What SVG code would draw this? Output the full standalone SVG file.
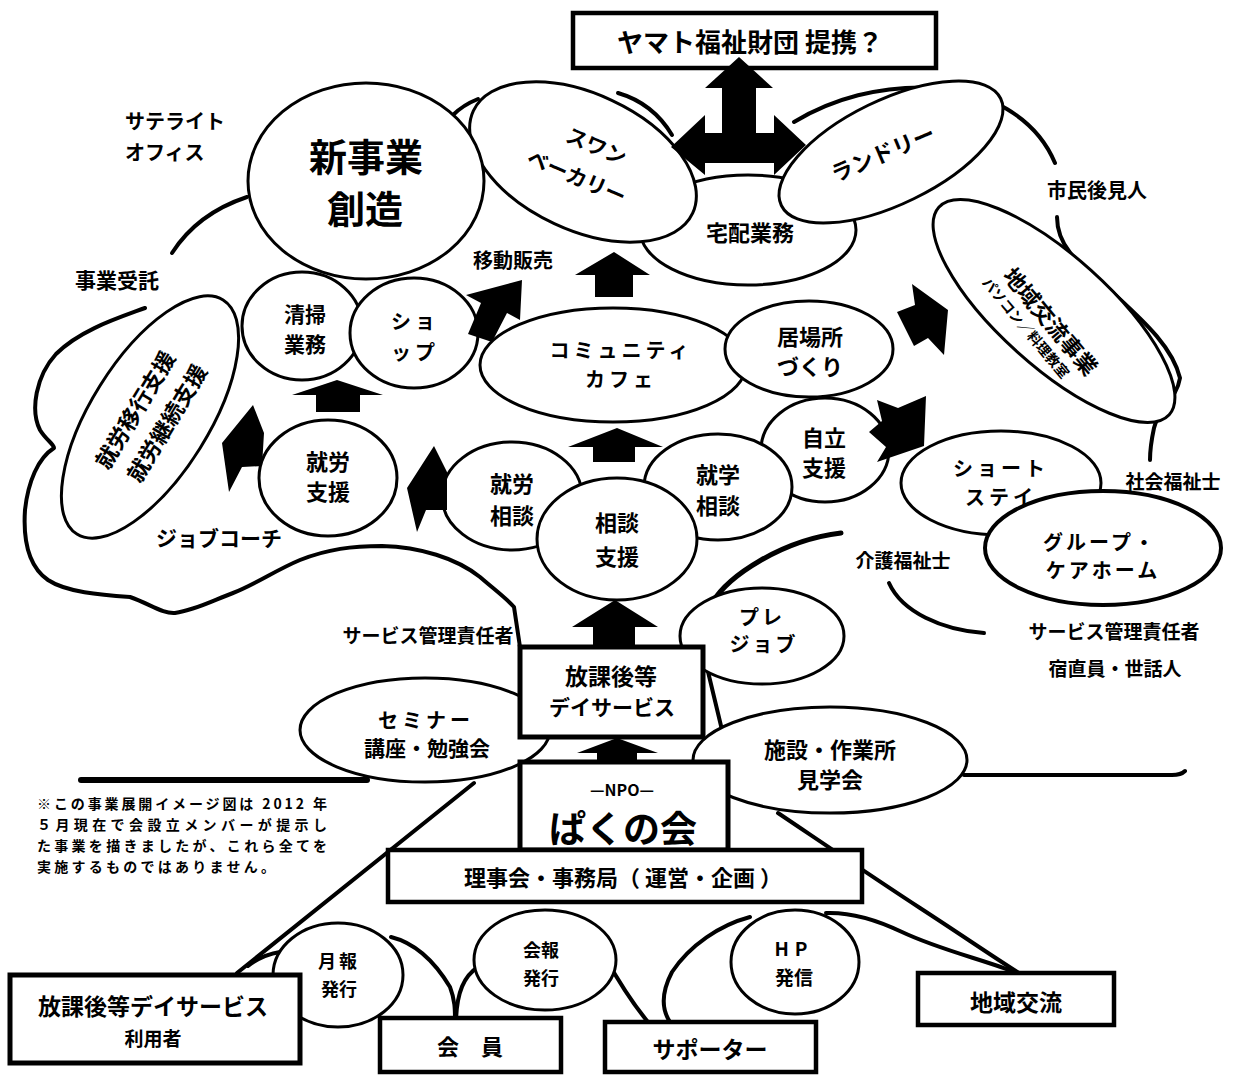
<svg xmlns="http://www.w3.org/2000/svg" width="1240" height="1082" viewBox="0 0 1240 1082">
<style>
.n{fill:#fff;stroke:#000;stroke-width:3}
.bx{fill:#fff;stroke:#000;stroke-width:4.5}
.t{font-family:"Noto Sans CJK JP","Noto Sans CJK SC",sans-serif;font-weight:700;text-anchor:middle;fill:#000}
.s{text-anchor:start}
.l{fill:none;stroke:#000;stroke-width:4;stroke-linecap:round;stroke-linejoin:round}
.a{fill:#000}
</style>
<rect width="1240" height="1082" fill="#fff"/>

<g id="connectors">
<path class="l" d="M172,253 C188,228 214,208 247,197"/>
<path class="l" d="M453,115 C460,108 468,103 478,99"/>
<path class="l" d="M618,93 C642,100 660,115 672,135"/>
<path class="l" d="M794,122 C830,100 880,84 940,88 C985,92 1035,115 1055,163"/>
<path class="l" d="M1057,217 C1057,250 1085,268 1110,290 C1140,318 1172,345 1180,378 C1177,398 1158,410 1154,428 C1151,442 1150,450 1150,460"/>
<path class="l" d="M889,583 C902,612 942,630 984,633"/>
<path class="l" style="stroke-width:5" d="M712,603 C728,576 782,540 841,533"/>
<path class="l" d="M145,308 C118,318 80,330 56,354 C36,376 30,410 40,430 C46,440 54,444 54,448 C38,458 28,482 25,510 C23,540 28,566 48,580 C66,592 100,595 130,597 C150,604 163,614 175,613 C196,610 214,600 233,593 C256,584 276,570 300,560 C328,549 352,546 382,546 C420,547 456,558 480,577 C495,590 506,598 514,607 L520,647"/>
<path class="l" d="M474,783 L237,973"/>
<path class="l" d="M248,966 C258,958 268,954 280,952"/>
<path class="l" d="M391,937 C415,943 435,962 450,987 C455,1000 455,1010 455,1020"/>
<path class="l" d="M478,967 C464,976 457,992 456,1020"/>
<path class="l" d="M605,957 C615,975 628,998 648,1022"/>
<path class="l" d="M750,917 C720,925 690,945 672,972 C660,995 662,1010 670,1022"/>
<path class="l" d="M826,913 C852,912 877,920 902,932 C940,950 985,960 1017,973"/>
<path class="l" d="M778,813 C830,848 880,882 920,908 C960,934 995,958 1022,975"/>
<path class="l" style="stroke-width:6" d="M81,780 L367,780"/>
<path class="l" d="M964,775 L1172,775 C1178,775 1183,773 1185,771"/>
<path class="l" d="M704,655 C710,680 716,705 722,730"/>
</g>

<g id="nodes">
<g id="n-takuhai"><ellipse class="n" cx="748" cy="230" rx="108" ry="55"/><text class="t" x="750" y="241" font-size="22">宅配業務</text></g>
<g id="n-swan"><ellipse class="n" cx="583" cy="162" rx="121" ry="68" transform="rotate(25 583 162)"/>
<g transform="translate(583 162) rotate(23)"><text class="t" x="6" y="-12" font-size="21">スワン</text><text class="t" x="0" y="24" font-size="21">ベーカリー</text></g></g>
<g id="n-laundry"><ellipse class="n" cx="891" cy="152" rx="122" ry="52" transform="rotate(-26 891 152)"/>
<text class="t" x="0" y="0" font-size="22" transform="translate(886 161) rotate(-23)">ランドリー</text></g>
<g id="n-new"><ellipse class="n" cx="366" cy="181" rx="118" ry="98"/><text class="t" x="366" y="171" font-size="38">新事業</text><text class="t" x="365" y="223" font-size="38">創造</text></g>
<g id="n-seisou"><ellipse class="n" cx="302" cy="326" rx="60" ry="54"/><text class="t" x="305" y="322" font-size="21">清掃</text><text class="t" x="305" y="352" font-size="21">業務</text></g>
<g id="n-shop"><ellipse class="n" cx="414" cy="333" rx="64" ry="55"/><text class="t" x="415" y="329" font-size="20" letter-spacing="4">ショ</text><text class="t" x="415" y="360" font-size="20" letter-spacing="4">ップ</text></g>
<g id="n-cafe"><ellipse class="n" cx="613" cy="365" rx="133" ry="57"/><text class="t" x="621" y="358" font-size="20" letter-spacing="4" font-weight="500">コミュニティ</text><text class="t" x="621" y="387" font-size="20" letter-spacing="4" font-weight="500">カフェ</text></g>
<g id="n-ibasho"><ellipse class="n" cx="809" cy="349" rx="84" ry="48"/><text class="t" x="810" y="345" font-size="22">居場所</text><text class="t" x="810" y="375" font-size="22">づくり</text></g>
<g id="n-jiritsu"><ellipse class="n" cx="825" cy="450" rx="64" ry="52"/><text class="t" x="824" y="446" font-size="22">自立</text><text class="t" x="824" y="476" font-size="22">支援</text></g>
<g id="n-shugaku"><ellipse class="n" cx="718" cy="487" rx="74" ry="53"/><text class="t" x="718" y="483" font-size="22">就学</text><text class="t" x="718" y="514" font-size="22">相談</text></g>
<g id="n-shuro-sodan"><ellipse class="n" cx="512" cy="496" rx="70" ry="54"/><text class="t" x="512" y="492" font-size="22">就労</text><text class="t" x="512" y="524" font-size="22">相談</text></g>
<g id="n-sodan"><ellipse class="n" cx="617" cy="539" rx="80" ry="61"/><text class="t" x="617" y="531" font-size="22">相談</text><text class="t" x="617" y="565" font-size="22">支援</text></g>
<g id="n-shuro-shien"><ellipse class="n" cx="328" cy="478" rx="69" ry="58"/><text class="t" x="328" y="470" font-size="22">就労</text><text class="t" x="328" y="500" font-size="22">支援</text></g>
<g id="n-ikou"><ellipse class="n" cx="150" cy="417" rx="138" ry="59" transform="rotate(-58 150 417)"/>
<g transform="translate(151 417) rotate(-59)"><text class="t" x="-2" y="-9" font-size="22">就労移行支援</text><text class="t" x="3" y="25" font-size="22">就労継続支援</text></g></g>
<g id="n-chiiki-jigyo"><ellipse class="n" cx="1054" cy="311" rx="155" ry="55" transform="rotate(42 1054 311)"/>
<g transform="translate(1040 325) rotate(50)"><text class="t" x="4" y="-2" font-size="22">地域交流事業</text><text class="t" x="-7" y="18" font-size="14">パソコン／料理教室</text></g></g>
<g id="n-short"><ellipse class="n" cx="1001" cy="483" rx="100" ry="52"/><text class="t" x="1001" y="476" font-size="20" letter-spacing="4">ショート</text><text class="t" x="1001" y="505" font-size="20" letter-spacing="4">ステイ</text></g>
<g id="n-group"><ellipse class="n" cx="1103" cy="548" rx="118" ry="57" style="stroke-width:4"/><text class="t" x="1100" y="550" font-size="20" letter-spacing="3">グループ・</text><text class="t" x="1103" y="578" font-size="20" letter-spacing="3">ケアホーム</text></g>
<g id="n-prejob"><ellipse class="n" cx="762" cy="636" rx="82" ry="48"/><text class="t" x="762" y="625" font-size="20" letter-spacing="3">プレ</text><text class="t" x="764" y="652" font-size="20" letter-spacing="3">ジョブ</text></g>
<g id="n-seminar"><ellipse class="n" cx="425" cy="730" rx="125" ry="52"/><text class="t" x="426" y="728" font-size="20" letter-spacing="4" font-weight="500">セミナー</text><text class="t" x="427" y="756" font-size="21">講座・勉強会</text></g>
<g id="n-kengaku"><ellipse class="n" cx="830" cy="760" rx="137" ry="53"/><text class="t" x="830" y="758" font-size="22">施設・作業所</text><text class="t" x="830" y="788" font-size="22">見学会</text></g>
<g id="n-houkago"><rect class="bx" x="520" y="647" width="183" height="90" style="stroke-width:5"/><text class="t" x="611" y="685" font-size="23">放課後等</text><text class="t" x="612" y="715" font-size="21">デイサービス</text></g>
<g id="n-npo"><rect class="bx" x="520" y="762" width="208" height="88" style="stroke-width:5"/><text class="t" x="622" y="796" font-size="16">—NPO—</text><text class="t" x="623" y="843" font-size="37">ぱくの会</text></g>
<g id="n-rijikai"><rect class="bx" x="388" y="850" width="474" height="52"/><text class="t" x="623" y="886" font-size="22">理事会・事務局（ 運営・企画 ）</text></g>
<g id="n-yamato"><rect class="bx" x="573" y="13" width="363" height="55"/><text class="t" x="750" y="52" font-size="26">ヤマト福祉財団  提携？</text></g>
<g id="n-geppo"><ellipse class="n" cx="338" cy="975" rx="65" ry="52"/><text class="t" x="339" y="968" font-size="18" letter-spacing="3">月報</text><text class="t" x="339" y="996" font-size="18">発行</text></g>
<g id="n-kaiho"><ellipse class="n" cx="545" cy="960" rx="71" ry="50"/><text class="t" x="541" y="957" font-size="18">会報</text><text class="t" x="541" y="985" font-size="18">発行</text></g>
<g id="n-hp"><ellipse class="n" cx="795" cy="962" rx="64" ry="52"/><text class="t" x="794" y="956" font-size="19" letter-spacing="6">HP</text><text class="t" x="794" y="985" font-size="19">発信</text></g>
<g id="n-riyosha"><rect class="bx" x="10" y="975" width="290" height="88" style="stroke-width:5"/><text class="t" x="153" y="1015" font-size="23">放課後等デイサービス</text><text class="t" x="153" y="1046" font-size="19">利用者</text></g>
<g id="n-kaiin"><rect class="bx" x="380" y="1018" width="181" height="54"/><text class="t" x="470" y="1055" font-size="22">会　員</text></g>
<g id="n-supporter"><rect class="bx" x="605" y="1022" width="211" height="50"/><text class="t" x="710" y="1058" font-size="23">サポーター</text></g>
<g id="n-chiiki"><rect class="bx" x="918" y="973" width="196" height="52"/><text class="t" x="1016" y="1011" font-size="23">地域交流</text></g>
</g>

<g id="arrows">
<polygon class="a" points="739,57 773,88 756,88 756,133 774,133 774,115 806,145 774,175 774,163 705,163 705,175 671,147 705,115 705,133 722,133 722,88 705,88"/>
<polygon class="a" points="614,252 650,275 633,275 633,297 595,297 595,275 575,275"/>
<polygon class="a" points="617,428 663,447 635,447 635,462 593,462 593,447 568,447"/>
<polygon class="a" points="615,600 658,627 635,627 635,647 593,647 593,627 572,627"/>
<polygon class="a" points="617,738 658,753 637,753 637,762 597,762 597,753 577,753"/>
<polygon class="a" points="337,380 383,395 360,395 360,412 316,412 316,395 292,395"/>
<polygon class="a" points="522,280 520,320 507,313 492,342 468,334 481,303 466,295"/>
<polygon class="a" points="434,446 447,472 447,510 426,510 417,532 407,488"/>
<polygon class="a" points="253,405 264,433 262,466 242,467 229,492 222,443"/>
<polygon class="a" points="897,312 915,305 912,284 948,310 944,355 928,338 914,346"/>
<polygon class="a" points="877,400 898,408 926,396 924,446 877,462 886,447 869,432 882,421"/>
</g>

<g id="labels">
<text class="t s" x="125" y="129" font-size="20">サテライト</text>
<text class="t s" x="125" y="160" font-size="20">オフィス</text>
<text class="t" x="117" y="288" font-size="21">事業受託</text>
<text class="t" x="513" y="268" font-size="20">移動販売</text>
<text class="t" x="1097" y="198" font-size="20">市民後見人</text>
<text class="t" x="219" y="546" font-size="21">ジョブコーチ</text>
<text class="t" x="1173" y="489" font-size="19">社会福祉士</text>
<text class="t" x="903" y="568" font-size="19">介護福祉士</text>
<text class="t" x="428" y="643" font-size="19">サービス管理責任者</text>
<text class="t" x="1114" y="639" font-size="19">サービス管理責任者</text>
<text class="t" x="1115" y="676" font-size="19">宿直員・世話人</text>
<text class="t s" x="37" y="809" font-size="14" textLength="290" lengthAdjust="spacing">※この事業展開イメージ図は 2012 年</text>
<text class="t s" x="37" y="830" font-size="14" textLength="290" lengthAdjust="spacing">５月現在で会設立メンバーが提示し</text>
<text class="t s" x="37" y="851" font-size="14" textLength="290" lengthAdjust="spacing">た事業を描きましたが、これら全てを</text>
<text class="t s" x="37" y="872" font-size="14" textLength="238" lengthAdjust="spacing">実施するものではありません。</text>
</g>
</svg>
